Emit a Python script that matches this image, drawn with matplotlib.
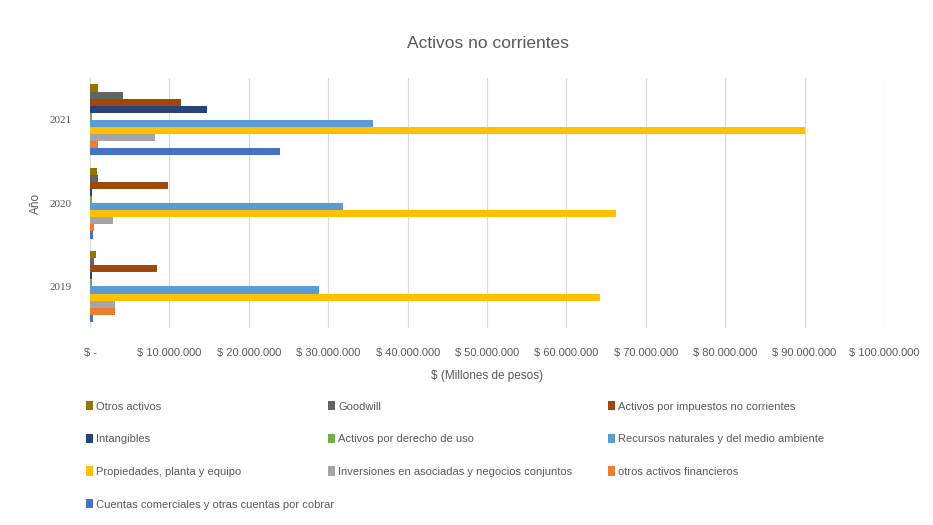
import numpy as np
import matplotlib
matplotlib.use("Agg")
import matplotlib.pyplot as plt
from matplotlib.ticker import FuncFormatter

plt.rcParams['font.family'] = ['Liberation Sans', 'DejaVu Sans']

years = ["2019", "2020", "2021"]

series = [
    "Otros activos",
    "Goodwill",
    "Activos por impuestos no corrientes",
    "Intangibles",
    "Activos por derecho de uso",
    "Recursos naturales y del medio ambiente",
    "Propiedades, planta y equipo",
    "Inversiones en asociadas y negocios conjuntos",
    "otros activos financieros",
    "Cuentas comerciales y otras cuentas por cobrar",
]

colors = ["#997300", "#636363", "#9E480E", "#264478", "#70AD47",
          "#5B9BD5", "#FFC000", "#A5A5A5", "#ED7D31", "#4472C4"]

# values per series for 2019, 2020, 2021 (pesos)
otros_activos = [700000, 900000, 1000000]
goodwill = [500000, 1000000, 4100000]
impuestos = [8400000, 9800000, 11500000]
intangibles = [300000, 300000, 14700000]
derecho_uso = [200000, 200000, 300000]
recursos = [28900000, 31800000, 35700000]
propiedades = [64200000, 66300000, 90000000]
inversiones = [3100000, 2900000, 8200000]
otros_financieros = [3200000, 500000, 1000000]
cuentas = [400000, 400000, 23900000]

values = [otros_activos, goodwill, impuestos, intangibles, derecho_uso,
          recursos, propiedades, inversiones, otros_financieros, cuentas]

text_color = "#595959"

fig = plt.figure(figsize=(9.33, 5.25), dpi=100)
ax = fig.add_axes([0.0965, 0.375, 0.851, 0.476])

y = np.arange(len(years))
h = 0.085
handles = []
for i, (name, vals, c) in enumerate(zip(series, values, colors)):
    b = ax.barh(y + (4.5 - i) * h, vals, height=h, color=c, label=name)
    handles.append(b)

ax.set_xlim(0, 100000000)
ax.set_ylim(-0.5, 2.5)
ax.set_xticks(np.arange(0, 100000001, 10000000))


def money(v, pos):
    if v == 0:
        return "$ -"
    return "$ " + f"{int(v):,}".replace(",", ".")


ax.xaxis.set_major_formatter(FuncFormatter(money))
ax.set_yticks(y)
ax.set_yticklabels(years, family="Liberation Serif")
ax.tick_params(axis="x", length=0, labelsize=8, colors=text_color, pad=14)
ax.tick_params(axis="y", length=0, labelsize=8, colors=text_color, pad=13)
ax.grid(axis="x", color="#D9D9D9", linewidth=0.8)
ax.set_axisbelow(True)
for s in ax.spines.values():
    s.set_visible(False)

ax.set_xlabel("$ (Millones de pesos)", fontsize=8.5, color=text_color, labelpad=9)
ax.set_ylabel("Año", fontsize=8.5, color=text_color, labelpad=6)
fig.text(0.5225, 0.918, "Activos no corrientes", ha="center", va="center",
         fontsize=12.5, color=text_color)

columns = [[0, 3, 6, 9], [1, 4, 7], [2, 5, 8]]
xs = [0.092, 0.352, 0.652]
for col, x in zip(columns, xs):
    leg = fig.legend([handles[i] for i in col], [series[i] for i in col],
                     loc="upper left", bbox_to_anchor=(x, 0.236), frameon=False,
                     fontsize=8, labelcolor=text_color, handlelength=0.6,
                     handleheight=0.9, handletextpad=0.3, labelspacing=2.0,
                     borderpad=0, borderaxespad=0)

fig.savefig("out.png", dpi=100)
